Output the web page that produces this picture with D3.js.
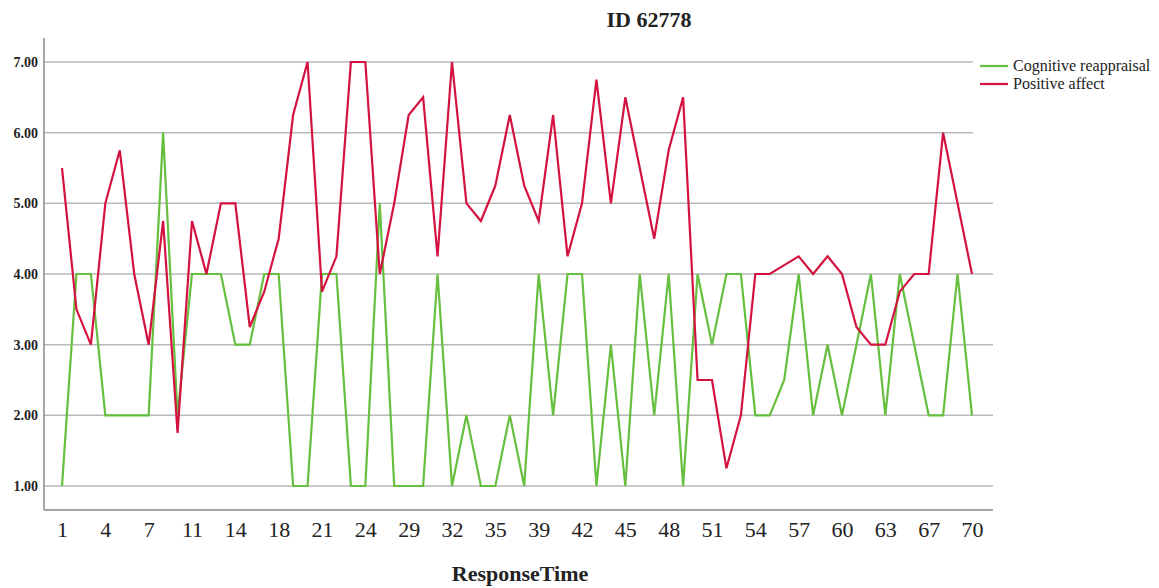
<!DOCTYPE html>
<html lang="en">
<head>
  <meta charset="utf-8" />
  <title>ID 62778</title>
  <script type="text/javascript" src="https://cdn.jsdelivr.net/npm/d3@7"></script>
  <style type="text/css">
body { margin: 0; background: white; }
svg text { font-family: "Liberation Serif", "Times New Roman", serif; fill: #222; }
  </style>
</head>
<body>

<script type="text/javascript">

// response times present for this participant
var responseTimes = [1, 2, 3, 4, 5, 6, 7, 9, 10, 11, 12, 13, 14, 15, 16, 18, 19, 20,
  21, 22, 23, 24, 25, 27, 29, 30, 31, 32, 33, 34, 35, 36, 37, 39, 40, 41, 42, 43,
  44, 45, 46, 47, 48, 49, 50, 51, 52, 53, 54, 55, 56, 57, 58, 59, 60, 61, 62, 63,
  64, 65, 67, 68, 69, 70];

var cognitiveReappraisal = [1, 4, 4, 2, 2, 2, 2, 6, 2, 4, 4, 4, 3, 3, 4, 4, 1, 1,
  4, 4, 1, 1, 5, 1, 1, 1, 4, 1, 2, 1, 1, 2, 1, 4, 2, 4, 4, 1, 3, 1, 4, 2, 4, 1,
  4, 3, 4, 4, 2, 2, 2.5, 4, 2, 3, 2, 3, 4, 2, 4, 3, 2, 2, 4, 2];

var positiveAffect = [5.5, 3.5, 3, 5, 5.75, 4, 3, 4.75, 1.75, 4.75, 4, 5, 5, 3.25,
  3.75, 4.5, 6.25, 7, 3.75, 4.25, 7, 7, 4, 5, 6.25, 6.5, 4.25, 7, 5, 4.75, 5.25,
  6.25, 5.25, 4.75, 6.25, 4.25, 5, 6.75, 5, 6.5, 5.5, 4.5, 5.75, 6.5, 2.5, 2.5,
  1.25, 2, 4, 4, 4.125, 4.25, 4, 4.25, 4, 3.25, 3, 3, 3.75, 4, 4, 6, 5, 4];

var xTickLabels = [1, 4, 7, 11, 14, 18, 21, 24, 29, 32, 35, 39, 42, 45, 48, 51,
  54, 57, 60, 63, 67, 70];
var yTickValues = [1, 2, 3, 4, 5, 6, 7];

var seriesNames = ["Cognitive reappraisal", "Positive affect"];
var seriesColors = ["#66bf3f", "#d3123f"];

var w = 1159;
var h = 588;
var frame = { left: 44, right: 993, top: 38, bottom: 510 };

var svg = d3.select("body")
    .append("svg")
    .attr("width", w)
    .attr("height", h);

var x = d3.scalePoint()
    .domain(responseTimes)
    .range([62, 972]);

var y = d3.scaleLinear()
    .domain([1, 7])
    .range([486, 62]);

// grid lines (top two stop short where the legend sits)
svg.append("g")
    .selectAll("line")
    .data(yTickValues)
    .enter()
    .append("line")
    .attr("x1", frame.left)
    .attr("x2", function(d) { return d >= 6 ? 973 : frame.right; })
    .attr("y1", function(d) { return y(d); })
    .attr("y2", function(d) { return y(d); })
    .attr("stroke", "#b9b9b9")
    .attr("stroke-width", 1.5);

// y axis
var yAxis = svg.append("g")
    .attr("transform", "translate(" + frame.left + ",0)")
    .call(d3.axisLeft(y)
      .tickValues(yTickValues)
      .tickSize(0)
      .tickPadding(6)
      .tickFormat(d3.format(".2f")));
yAxis.select(".domain").remove();
yAxis.selectAll("text")
    .attr("font-size", 14)
    .attr("font-weight", "bold")
    .attr("fill", "#333");

// x axis
var xAxis = svg.append("g")
    .attr("transform", "translate(0," + frame.bottom + ")")
    .call(d3.axisBottom(x)
      .tickValues(xTickLabels)
      .tickSize(0)
      .tickPadding(11));
xAxis.select(".domain").remove();
xAxis.selectAll("text")
    .attr("font-size", 22)
    .attr("fill", "#222");

// frame lines
svg.append("line")
    .attr("x1", frame.left).attr("x2", frame.left)
    .attr("y1", frame.top).attr("y2", frame.bottom)
    .attr("stroke", "#8a8a8a").attr("stroke-width", 1.5);
svg.append("line")
    .attr("x1", frame.left).attr("x2", frame.right)
    .attr("y1", frame.bottom).attr("y2", frame.bottom)
    .attr("stroke", "#8a8a8a").attr("stroke-width", 1.5);

// series lines
var series = [cognitiveReappraisal, positiveAffect];
var line = d3.line()
    .x(function(d, i) { return x(responseTimes[i]); })
    .y(function(d) { return y(d); });

svg.append("g")
    .selectAll("path")
    .data(series)
    .enter()
    .append("path")
    .attr("d", line)
    .attr("fill", "none")
    .attr("stroke", function(d, i) { return seriesColors[i]; })
    .attr("stroke-width", 2.2)
    .attr("stroke-linejoin", "miter");

// title
svg.append("text")
    .attr("x", 649)
    .attr("y", 27)
    .attr("text-anchor", "middle")
    .attr("font-size", 22)
    .attr("font-weight", "bold")
    .text("ID 62778");

// axis title
svg.append("text")
    .attr("x", 520)
    .attr("y", 581)
    .attr("text-anchor", "middle")
    .attr("font-size", 22)
    .attr("font-weight", "bold")
    .text("ResponseTime");

// legend
var legend = svg.append("g")
    .selectAll("g")
    .data(seriesNames)
    .enter()
    .append("g")
    .attr("transform", function(d, i) { return "translate(980," + (66 + i * 18) + ")"; });
legend.append("line")
    .attr("x1", 0).attr("x2", 28)
    .attr("stroke", function(d, i) { return seriesColors[i]; })
    .attr("stroke-width", 2.2);
legend.append("text")
    .attr("x", 33)
    .attr("y", 5)
    .attr("font-size", 16)
    .text(function(d) { return d; });

</script>

</body>
</html>
